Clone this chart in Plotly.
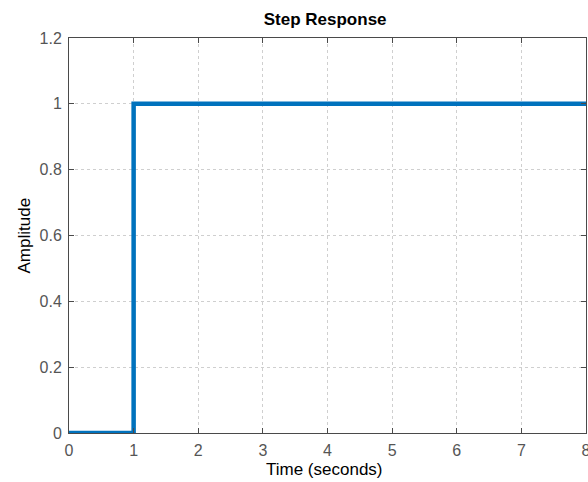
import plotly.graph_objects as go

time_s = [0, 1, 1, 8]
amplitude = [0, 0, 1, 1]
x_ticks = [0, 1, 2, 3, 4, 5, 6, 7, 8]
y_ticks = [0, 0.2, 0.4, 0.6, 0.8, 1, 1.2]
y_tick_labels = ["0", "0.2", "0.4", "0.6", "0.8", "1", "1.2"]

fig = go.Figure()
fig.add_trace(go.Scatter(x=time_s, y=amplitude, mode="lines",
                         line=dict(color="#0072BD", width=4.5), showlegend=False))

font_family = "Liberation Sans, Arial, Helvetica, sans-serif"
axis_common = dict(
    showline=True, linecolor="#4a4a4a", linewidth=1, mirror="ticks",
    ticks="inside", ticklen=5, tickcolor="#4a4a4a", tickwidth=1,
    showgrid=True, gridcolor="rgba(38,38,38,0.22)", griddash="dot", gridwidth=1,
    zeroline=False, automargin=False, ticklabeloverflow="allow",
    ticklabelstandoff=3,
    tickfont=dict(family=font_family, size=16, color="#555555"),
)

L, R, T, B = 69, 2, 38, 49
W, H = 588, 482

fig.update_layout(
    width=W, height=H,
    margin=dict(l=L, r=R, t=T, b=B),
    paper_bgcolor="white", plot_bgcolor="white",
    title=dict(text="<b>Step Response</b>", x=(L + W - R) / 2 / W - 0.004, xanchor="center",
               y=1 - 19 / H, yanchor="middle",
               font=dict(family=font_family, size=17, color="#000000")),
    xaxis=dict(range=[0, 8], tickvals=x_ticks, **axis_common),
    yaxis=dict(range=[0, 1.2], tickvals=y_ticks, ticktext=y_tick_labels, **axis_common),
    annotations=[
        dict(text="Time (seconds)", xref="paper", yref="paper",
             x=0.495, y=-(469 - (H - B)) / (H - T - B), xanchor="center", yanchor="middle",
             showarrow=False, font=dict(family=font_family, size=17, color="#000000")),
        dict(text="Amplitude", xref="paper", yref="paper", textangle=-90,
             x=-(L - 24) / (W - L - R), y=0.5, xanchor="center", yanchor="middle",
             showarrow=False, font=dict(family=font_family, size=17, color="#000000")),
    ],
)

fig.write_html("out.html", config={"displayModeBar": False},
               post_script="document.body.style.margin='0';")
